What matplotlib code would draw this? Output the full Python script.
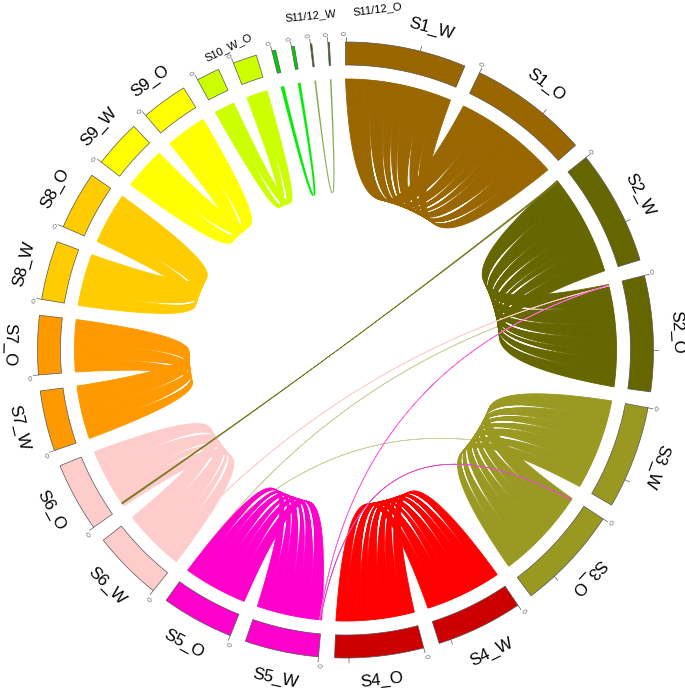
import numpy as np
import matplotlib
matplotlib.use('Agg')
import matplotlib.pyplot as plt
from matplotlib.patches import PathPatch
from matplotlib.path import Path

plt.rcParams['font.family'] = ['Liberation Sans', 'DejaVu Sans']

# sector order runs clockwise from 12 o'clock, lengths in Mb
sectors = ['S1_W', 'S1_O', 'S2_W', 'S2_O', 'S3_W', 'S3_O', 'S4_W', 'S4_O',
           'S5_W', 'S5_O', 'S6_W', 'S6_O', 'S7_W', 'S7_O', 'S8_W', 'S8_O',
           'S9_W', 'S9_O', 'S10_W', 'S10_O', 'S11_W', 'S11_O', 'S12_W', 'S12_O']
lengths = [162, 160, 154, 155, 138, 140, 116, 119, 99, 97, 94, 93, 81, 79, 79, 78,
           64, 62, 31, 32, 5, 4, 2, 2]
track_colors = ['#996600', '#666600', '#999922', '#CC0000', '#FF00CC', '#FFCCCC',
                '#FF9900', '#FFCC00', '#FFFF00', '#CCFF00', '#00CC00', '#336600']
link_colors = ['#996600', '#666600', '#999922', '#FF0000', '#FF00CC', '#FFCCCC',
               '#FF9900', '#FFCC00', '#FFFF00', '#CCFF00', '#00EE00', '#77AA44']

# breaks in the W/O alignment of each species, Mb along W
species_gaps = [
    [38, 62, 78, 92, 118, 140],
    [30, 58, 80, 100, 112, 132],
    [28, 50, 66, 82, 104, 122],
    [18, 34, 50, 68, 80, 100],
    [20, 38, 52, 70, 84],
    [22, 36, 66],
    [18, 44],
    [22],
    [30],
    [14],
    [],
    [],
]

# links between species: sector, Mb, sector, Mb, width in Mb, colour, layer
cross_links = [
    ('S3_W', 110, 'S5_O', 96, 0.5, '#CFCF9A', 1),
    ('S2_O', 12, 'S5_O', 96, 0.5, '#CFCF9A', 1),
    ('S2_O', 2, 'S6_W', 20, 0.6, '#FFCCCC', 5),
    ('S2_O', 1, 'S5_W', 3, 0.5, '#FF66DD', 5),
    ('S3_O', 2, 'S5_W', 2, 0.5, '#E050C8', 5),
    ('S2_W', 1, 'S6_O', 4, 2.0, '#77771C', 5),
]

small_labels = ['S10_W_O', 'S11/12_W', 'S11/12_O']
lens_widths = [3.6, 2.2, 3.2, 2.0, 3.8, 2.4, 3.0]

GAP = 3.0
R_OUT, R_IN, R_LINK = 308, 285, 271
CX, CY = 345.5, 350
DEG = (360 - GAP * len(sectors)) / sum(lengths)
T = np.linspace(0, 1, 41)

starts = {}
pos = 0.0
for name, size in zip(sectors, lengths):
    starts[name] = pos
    pos += size * DEG + GAP
sizes = dict(zip(sectors, lengths))


def ang(name, mb):
    return starts[name] + mb * DEG


def xy(r, a):
    a = np.radians(a)
    return np.array([r * np.sin(a), r * np.cos(a)])


def ctrl(r_span):
    # long links pull towards the centre, short ones stop at a fixed height
    span = min(abs(r_span), 360 - abs(r_span))
    if span < 65:
        return 44
    return max(0, 44 * (1 - (span - 65) / 75))


def edge(a, b, lens=0.0):
    # curve from angle a to angle b, bulged sideways in the middle by lens px
    mid = (a + b) / 2
    p0, c, p1 = xy(R_LINK, a), xy(ctrl(b - a), mid), xy(R_LINK, b)
    side = np.array([np.cos(np.radians(mid)), -np.sin(np.radians(mid))])
    pts = [(1 - t) ** 2 * p0 + 2 * t * (1 - t) * c + t ** 2 * p1
           + lens * (4 * t * (1 - t)) ** 3 * side for t in T]
    return pts


def arc(a0, a1):
    return [xy(R_LINK, a) for a in np.linspace(a0, a1, max(2, int(abs(a1 - a0)) * 2 + 2))]


def ribbon(a0, a1, b0, b1, lens0=0.0, lens1=0.0):
    pts = arc(a0, a1) + edge(a1, b1, lens1) + arc(b1, b0) + edge(a0, b0, lens0)[::-1]
    return Path(np.array(pts), closed=False)


fig = plt.figure(figsize=(6.85, 6.90), dpi=100)
ax = fig.add_axes([0, 0, 1, 1])
ax.set_xlim(-CX, 685 - CX)
ax.set_ylim(CY - 690, CY)
ax.axis('off')

# outer track, start tick and 100 Mb tick
for i, name in enumerate(sectors):
    color = track_colors[i // 2]
    a = np.linspace(ang(name, 0), ang(name, sizes[name]), 40)
    pts = [xy(R_OUT, t) for t in a] + [xy(R_IN, t) for t in a[::-1]]
    ax.fill(*zip(*pts), facecolor=color, edgecolor='#555555', lw=0.5, zorder=3)
    ticks = [0, 100] if sizes[name] > 100 else [0]
    for t in ticks:
        p0 = xy(R_OUT, ang(name, t))
        p1 = xy(R_OUT + 5, ang(name, t))
        ax.plot([p0[0], p1[0]], [p0[1], p1[1]], color='#555555', lw=0.5, zorder=3)
    tx, ty = xy(R_OUT + 8.5, ang(name, 0))
    ax.text(tx, ty, '0', fontsize=5, color='#666666', ha='center', va='center',
            rotation=90 - ang(name, 0), rotation_mode='anchor')

# sector labels, baseline set so the capitals sit centred on the label radius
for name in sectors[:18]:
    a = ang(name, sizes[name] / 2)
    if name == 'S1_W':
        a += 3.5
    rot = 180 - a if 146 < a < 275 else -a
    tx, ty = xy(331 if name == 'S4_O' else 334, a)
    tx += 6 * np.sin(np.radians(rot))
    ty -= 6 * np.cos(np.radians(rot))
    ax.text(tx, ty, name, fontsize=12.2, ha='center', va='baseline',
            rotation=rot, rotation_mode='anchor')
for label, px, py, rot in zip(small_labels, [228, 311, 377], [47, 16, 9], [26, 5.5, 7]):
    ax.text(px - CX, CY - py, label, fontsize=8, ha='center', va='center',
            rotation=rot, rotation_mode='anchor')

# cross links, the tan ones sit under the ribbons
for s0, m0, s1, m1, w, color, z in cross_links:
    p = ribbon(ang(s0, m0), ang(s0, m0 + w), ang(s1, m1), ang(s1, m1 + w))
    ax.add_patch(PathPatch(p, facecolor=color, edgecolor=color, lw=0.5, zorder=z))

# ribbons W to O for each species: thin strips, with a lens left open at each break
for i, gaps in enumerate(species_gaps):
    w, o = sectors[2 * i], sectors[2 * i + 1]
    ratio = sizes[o] / sizes[w]
    cuts = [0] + gaps + [sizes[w]]
    lw = 0.6 if sizes[w] > 10 else 0.1
    scale = 1.0 if sizes[w] > 90 else 0.65
    for j in range(len(cuts) - 1):
        n = max(1, int((cuts[j + 1] - cuts[j]) / 4))
        fine = np.linspace(cuts[j], cuts[j + 1], n + 1)
        for k in range(n):
            l0 = scale * lens_widths[j - 1] if (k == 0 and j > 0) else 0.0
            l1 = -scale * lens_widths[j] if (k == n - 1 and j < len(cuts) - 2) else 0.0
            p = ribbon(ang(w, fine[k]), ang(w, fine[k + 1]),
                       ang(o, fine[k] * ratio), ang(o, fine[k + 1] * ratio), l0, l1)
            ax.add_patch(PathPatch(p, facecolor=link_colors[i], edgecolor=link_colors[i],
                                   lw=lw, zorder=2))

fig.savefig('out.png', dpi=100)
